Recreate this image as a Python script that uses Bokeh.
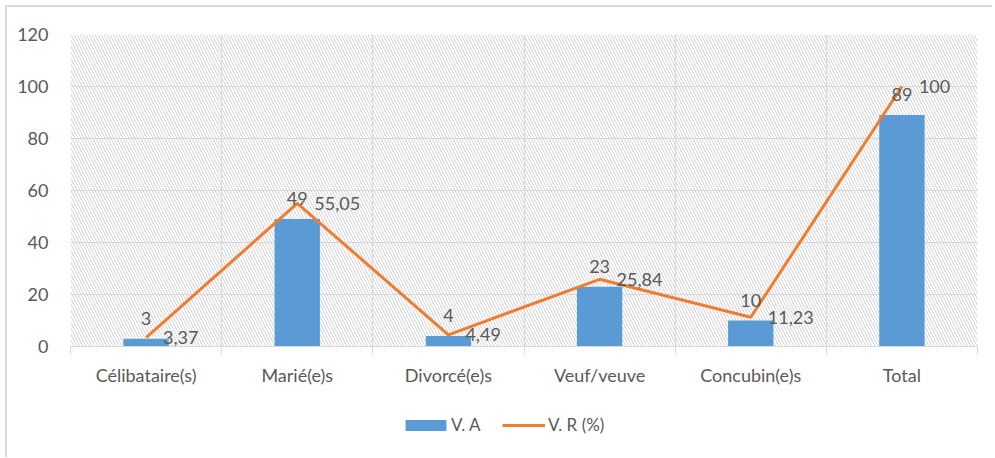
from bokeh.plotting import figure
from bokeh.layouts import column
from bokeh.models import (ColumnDataSource, FixedTicker, BoxAnnotation, Legend, LegendItem)
from bokeh.core.properties import value
from bokeh.embed import file_html
from bokeh.resources import INLINE

categories = ["Célibataire(s)", "Marié(e)s", "Divorcé(e)s", "Veuf/veuve", "Concubin(e)s", "Total"]
va = [3, 49, 4, 23, 10, 89]
vr = [3.37, 55.05, 4.49, 25.84, 11.23, 100]
vr_labels = ["3,37", "55,05", "4,49", "25,84", "11,23", "100"]
y_ticks = [0, 20, 40, 60, 80, 100, 120]

FONT = "Lato"
TXT = "#595959"
BLUE = "#5b9bd5"
ORANGE = "#ed7d31"

xs = [i + 0.5 for i in range(len(categories))]
src = ColumnDataSource(dict(x=xs, va=va, vr=vr, va_lab=[str(v) for v in va], vr_lab=vr_labels))

p = figure(width=985, height=400, x_range=(0, len(categories)), y_range=(0, 120),
           output_backend="svg", toolbar_location=None,
           min_border_left=63, min_border_right=15, min_border_top=27, min_border_bottom=61)
p.outline_line_color = None

p.add_layout(BoxAnnotation(fill_color="white", fill_alpha=0, line_color=None,
                           hatch_pattern="\\", hatch_color="#d4d4d4", hatch_scale=6,
                           hatch_weight=1, level="underlay"))

p.ygrid.ticker = FixedTicker(ticks=y_ticks)
p.ygrid.grid_line_color = "#d9d9d9"
p.xgrid.ticker = FixedTicker(ticks=list(range(len(categories) + 1)))
p.xgrid.grid_line_color = "#d9d9d9"

p.yaxis.ticker = FixedTicker(ticks=y_ticks)
p.yaxis.axis_line_color = None
p.yaxis.major_tick_line_color = None
p.yaxis.minor_tick_line_color = None
p.yaxis.major_label_standoff = 16
p.yaxis.major_label_text_font = FONT
p.yaxis.major_label_text_font_size = "18px"
p.yaxis.major_label_text_color = TXT

p.xaxis.ticker = FixedTicker(ticks=xs, minor_ticks=list(range(len(categories) + 1)))
p.xaxis.major_label_overrides = {x: c for x, c in zip(xs, categories)}
p.xaxis.axis_line_color = "#d9d9d9"
p.xaxis.major_tick_line_color = None
p.xaxis.minor_tick_line_color = "#d9d9d9"
p.xaxis.minor_tick_out = 8
p.xaxis.minor_tick_in = 0
p.xaxis.major_label_standoff = 9
p.xaxis.major_label_text_font = FONT
p.xaxis.major_label_text_font_size = "18px"
p.xaxis.major_label_text_color = TXT

p.vbar(x="x", top="va", width=0.3, bottom=0, source=src, fill_color=BLUE, line_color=None)
p.line(x="x", y="vr", source=src, line_color=ORANGE, line_width=3)

p.text(x="x", y="va", text="va_lab", source=src, text_align="center", text_baseline="bottom",
       y_offset=-14, text_font=value(FONT), text_font_size="18px", text_color=TXT)
p.text(x="x", y="vr", text="vr_lab", source=src, text_align="left", text_baseline="middle",
       x_offset=17, text_font=value(FONT), text_font_size="18px", text_color=TXT)

# legend strip (its renderers use the same data but lie far outside its visible range)
lg = figure(width=985, height=50, x_range=(-100, -94), y_range=(1000, 1001),
            output_backend="svg", toolbar_location=None,
            min_border_left=0, min_border_right=0, min_border_top=0, min_border_bottom=0,
            x_axis_location=None, y_axis_location=None)
lg.outline_line_color = None
lg.xgrid.visible = False
lg.ygrid.visible = False
r_bar = lg.vbar(x="x", top="va", bottom=0, width=0.3, source=src, fill_color=BLUE, line_color=None)
r_line = lg.line(x="x", y="vr", source=src, line_color=ORANGE, line_width=3)

common = dict(orientation="horizontal", padding=0, margin=0, border_line_color=None,
              background_fill_alpha=0, label_text_font=FONT, label_text_font_size="17px",
              label_text_color=TXT)
leg1 = Legend(items=[LegendItem(label="V. A", renderers=[r_bar])], location=(330, 22),
              glyph_width=51, glyph_height=14, label_standoff=0, **common)
leg2 = Legend(items=[LegendItem(label="V. R (%)", renderers=[r_line])], location=(432, 22),
              glyph_width=43, glyph_height=14, label_standoff=3, **common)
lg.add_layout(leg1, "center")
lg.add_layout(leg2, "center")

col = column(p, lg, spacing=0)
col.styles = {"border-top": "2px solid #d9d9d9", "border-left": "2px solid #d9d9d9",
              "margin-left": "5px", "margin-top": "5px"}

open("out.html", "w").write(file_html(col, INLINE))
